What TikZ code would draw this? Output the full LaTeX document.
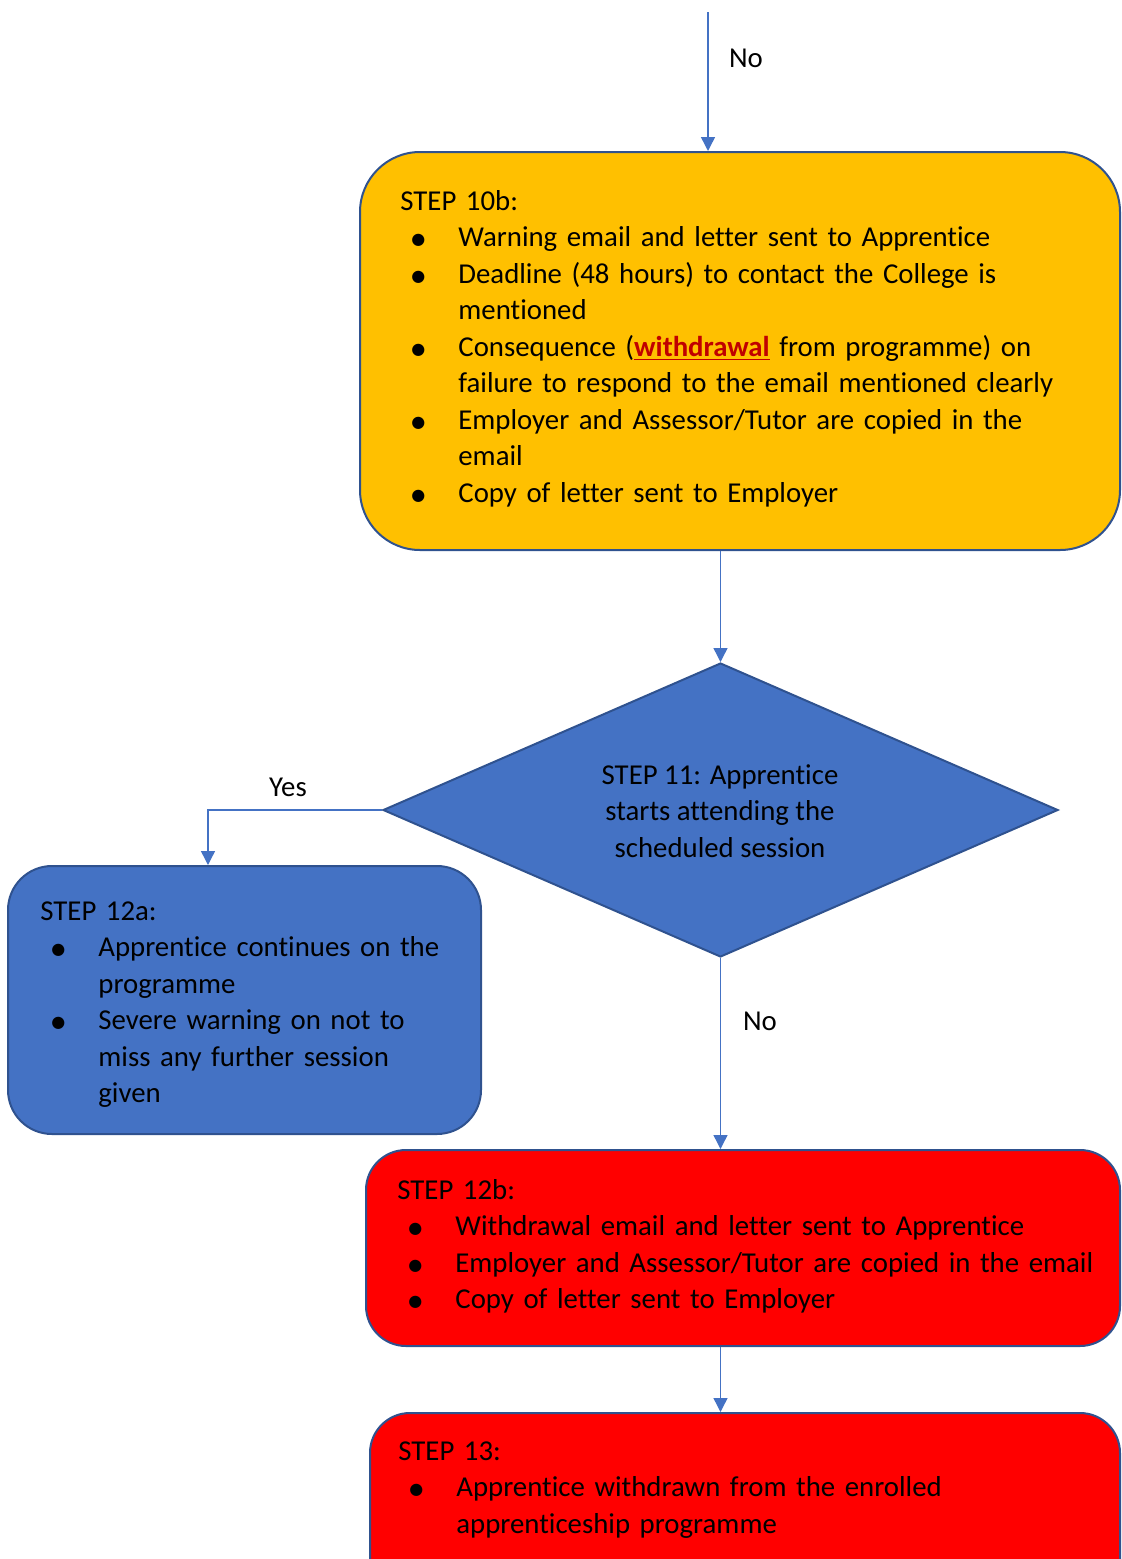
\documentclass[tikz,border=0pt]{standalone}
\usepackage{fontspec}
\setmainfont[Ligatures=NoCommon]{Carlito}
\newfontfamily\dotfont{DejaVu Sans}
\usetikzlibrary{shapes.geometric,arrows.meta}
\definecolor{boxline}{HTML}{2F528F}
\definecolor{flowblue}{HTML}{4472C4}
\definecolor{amber}{HTML}{FFC000}
\definecolor{alertred}{HTML}{FF0000}
\definecolor{darkred}{HTML}{C00000}
\tikzstyle{stepbox}=[draw=boxline, line width=1pt, inner sep=0pt]
\tikzstyle{decision}=[shape=diamond, draw=boxline, line width=1pt, fill=flowblue, inner sep=0pt]
\tikzstyle{steptext}=[anchor=base west, inner sep=0pt, text width=380pt, font=\fontsize{14.4}{18.25}\selectfont]
\tikzstyle{lbl}=[anchor=base, inner sep=0pt, font=\fontsize{14.4}{18.25}\selectfont]
\tikzstyle{to}=[-{Triangle[width=7pt,length=7pt]}, draw=flowblue, line width=0.7pt]
\newcommand{\bul}{{\dotfont\fontsize{8}{8}\selectfont\raisebox{1pt}{●}}}
\newcommand{\itm}{\par\hangindent=29pt\hangafter=0\noindent\llap{\makebox[23.5pt][l]{\bul}}}
\newcommand{\wdr}{{\color{darkred}\textbf{\underline{withdrawal}}}}

\begin{document}
\begin{tikzpicture}[x=0.5pt, y=-0.5pt]
  \useasboundingbox (0,0) rectangle (1121,1559);
  \clip (0,0) rectangle (1121,1559);

  % boxes
  \node[stepbox, fill=amber, rounded corners=30pt, minimum width=380pt, minimum height=199pt] (box10b) at (740,351) {};
  \node[decision, minimum width=337.5pt, minimum height=147pt] (dia) at (720.5,810) {};
  \node[stepbox, fill=flowblue, rounded corners=22pt, minimum width=236.5pt, minimum height=134pt] (box12a) at (244.5,1000) {};
  \node[stepbox, fill=alertred, rounded corners=20pt, minimum width=377pt, minimum height=98pt] (box12b) at (743,1248) {};
  \node[stepbox, fill=alertred, rounded corners=20pt, minimum width=375pt, minimum height=93.5pt] (box13) at (745,1506.5) {};

  % texts
  \node[steptext] (t10b) at (400,210) {\noindent STEP 10b:
    \itm Warning email and letter sent to Apprentice
    \itm Deadline (48 hours) to contact the College is\newline mentioned
    \itm Consequence (\wdr{} from programme) on\newline failure to respond to the email mentioned clearly
    \itm Employer and Assessor/Tutor are copied in the\newline email
    \itm Copy of letter sent to Employer\par};
  \node[lbl, anchor=center, align=center] (t11) at (720,811) {STEP 11: Apprentice\\ starts attending the\\ scheduled session};
  \node[steptext] (t12a) at (40,920) {\noindent STEP 12a:
    \itm Apprentice continues on the\newline programme
    \itm Severe warning on not to\newline miss any further session\newline given\par};
  \node[steptext] (t12b) at (397,1199) {\noindent STEP 12b:
    \itm Withdrawal email and letter sent to Apprentice
    \itm Employer and Assessor/Tutor are copied in the email
    \itm Copy of letter sent to Employer\par};
  \node[steptext] (t13) at (398,1460) {\noindent STEP 13:
    \itm Apprentice withdrawn from the enrolled\newline apprenticeship programme\par};

  % labels
  \node[lbl] (no1) at (746,67) {No};
  \node[lbl] (yes) at (288,796) {Yes};
  \node[lbl] (no2) at (760,1030) {No};

  % arrows
  \coordinate (in10b) at (708,12);
  \draw[to] (in10b) -- (in10b |- box10b.north);
  \draw[to] (dia.north |- box10b.south) -- (dia.north);
  \draw[to] (dia.west) -| ([xshift=-18.25pt]box12a.north);
  \draw[to] (dia.south) -- (dia.south |- box12b.north);
  \draw[to] (dia.south |- box12b.south) -- (dia.south |- box13.north);
\end{tikzpicture}
\end{document}
